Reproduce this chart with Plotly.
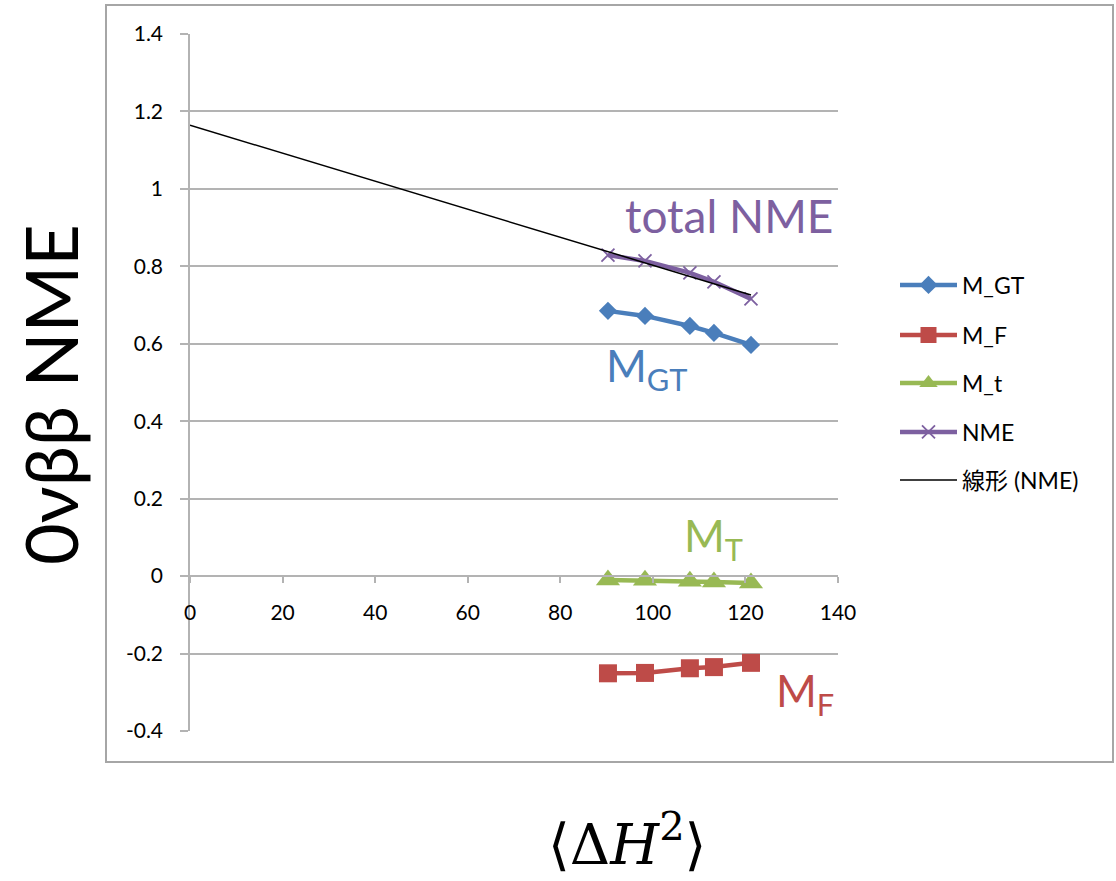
import numpy as np
import plotly.graph_objects as go

# ---------------- data ----------------
dH2 = [90.3, 98.3, 108.0, 113.2, 121.2]
M_GT = [0.685, 0.672, 0.646, 0.628, 0.597]
M_F = [-0.251, -0.250, -0.238, -0.235, -0.224]
M_t = [-0.010, -0.011, -0.013, -0.015, -0.018]
NME = [0.829, 0.814, 0.783, 0.760, 0.716]

series_names = ["M_GT", "M_F", "M_t", "NME"]
trend_name = "線形 (NME)"

y_tickvals = [1.4, 1.2, 1.0, 0.8, 0.6, 0.4, 0.2, 0.0, -0.2, -0.4]
y_ticktext = ["1.4", "1.2", "1", "0.8", "0.6", "0.4", "0.2", "0", "-0.2", "-0.4"]
x_tickvals = [0, 20, 40, 60, 80, 100, 120, 140]
x_ticktext = ["0", "20", "40", "60", "80", "100", "120", "140"]

# linear trendline of NME (least squares), from x=0 to last point
slope, intercept = np.polyfit(dH2, NME, 1)
trend_x = [0.0, max(dH2)]
trend_y = [intercept + slope * v for v in trend_x]

# ---------------- layout geometry ----------------
W, H = 1116, 881
PL, PR, PT, PB = 190, 838, 34, 731  # plot area box in page pixels
pw, ph = PR - PL, PB - PT


def px(x):
    return (x - PL) / pw


def py(y):
    return (PB - y) / ph


def dx(x):
    return (x - PL) / pw * 140


BLUE, RED, GREEN, PURPLE = "#4A7EBB", "#BE4B48", "#98B954", "#7D60A0"
GRID = "#B3B3B3"
FONT = "Lato, 'Noto Sans CJK JP', sans-serif"

fig = go.Figure()

fig.add_trace(go.Scatter(x=dH2, y=M_GT, name=series_names[0], mode="lines+markers",
                         line=dict(color=BLUE, width=4.5),
                         marker=dict(symbol="diamond", size=14, color=BLUE),
                         legend="legend"))
fig.add_trace(go.Scatter(x=dH2, y=M_F, name=series_names[1], mode="lines+markers",
                         line=dict(color=RED, width=4.5),
                         marker=dict(symbol="square", size=18, color=RED),
                         legend="legend2"))
fig.add_trace(go.Scatter(x=dH2, y=M_t, name=series_names[2], mode="lines+markers",
                         line=dict(color=GREEN, width=4.5),
                         marker=dict(symbol="triangle-up", size=21, color=GREEN),
                         legend="legend3"))
fig.add_trace(go.Scatter(x=dH2, y=NME, name=series_names[3], mode="lines+markers",
                         line=dict(color=PURPLE, width=4.5),
                         marker=dict(symbol="x-thin-open", size=13,
                                     line=dict(color=PURPLE, width=1.8)),
                         legend="legend4"))
fig.add_trace(go.Scatter(x=trend_x, y=trend_y, name=trend_name, mode="lines",
                         line=dict(color="black", width=1.5),
                         legend="legend5"))

legend_y_px = [285, 335, 383, 432, 480]
common_leg = dict(x=px(895), xanchor="left", yanchor="middle",
                  font=dict(family=FONT, size=23, color="black"),
                  bgcolor="rgba(0,0,0,0)", itemwidth=57)
legends = {}
for i, ypix in enumerate(legend_y_px):
    key = "legend" if i == 0 else f"legend{i + 1}"
    legends[key] = dict(common_leg, y=py(ypix))


def ann_font(c, s):
    return dict(family=FONT, size=s, color=c)


annotations = [
    dict(x=dx(729), y=0.93, xref="x", yref="y", text="total NME",
         showarrow=False, font=ann_font(PURPLE, 46), xanchor="center", yanchor="middle"),
    dict(x=dx(604), y=0.535, xref="x", yref="y", text="M<sub>GT</sub>",
         showarrow=False, font=ann_font(BLUE, 44), xanchor="left", yanchor="middle"),
    dict(x=dx(682), y=0.098, xref="x", yref="y", text="M<sub>T</sub>",
         showarrow=False, font=ann_font(GREEN, 44), xanchor="left", yanchor="middle"),
    dict(x=dx(774), y=-0.302, xref="x", yref="y", text="M<sub>F</sub>",
         showarrow=False, font=ann_font(RED, 44), xanchor="left", yanchor="middle"),
    # axis titles
    dict(x=px(50), y=py(395), xref="paper", yref="paper", text="0νββ NME",
         showarrow=False, textangle=-90, font=dict(family=FONT, size=72, color="black"),
         xanchor="center", yanchor="middle"),
    dict(x=px(627), y=py(840), xref="paper", yref="paper",
         text="⟨Δ<i>H</i><sup><span style='font-size:40px'>2</span></sup>⟩",
         showarrow=False,
         font=dict(family="'DejaVu Serif', 'Liberation Serif', serif", size=56, color="black"),
         xanchor="center", yanchor="middle"),
]

shapes = [
    dict(type="rect", xref="paper", yref="paper",
         x0=px(106), x1=px(1113), y0=py(762), y1=py(5),
         line=dict(color="#A6A6A6", width=2), fillcolor="rgba(0,0,0,0)", layer="below"),
]

fig.update_layout(
    width=W, height=H,
    margin=dict(l=PL, r=W - PR, t=PT, b=H - PB, pad=0),
    paper_bgcolor="white", plot_bgcolor="white",
    showlegend=True,
    annotations=annotations,
    shapes=shapes,
    font=dict(family=FONT, color="black"),
    **legends,
)

fig.update_xaxes(range=[0, 140], tickvals=x_tickvals, ticktext=x_ticktext,
                 showgrid=False, zeroline=False,
                 showline=True, linecolor=GRID, linewidth=1.5,
                 ticks="outside", ticklen=6, tickcolor=GRID, tickwidth=1.5,
                 anchor="free", position=0.4 / 1.8,
                 tickfont=dict(family=FONT, size=21, color="black"),
                 ticklabelstandoff=12)
fig.update_yaxes(range=[-0.4, 1.4], tickvals=y_tickvals, ticktext=y_ticktext,
                 showgrid=True, gridcolor=GRID, gridwidth=1.5, zeroline=False,
                 showline=True, linecolor=GRID, linewidth=1.5,
                 ticks="outside", ticklen=8, tickcolor=GRID, tickwidth=1.5,
                 tickfont=dict(family=FONT, size=21, color="black"),
                 ticklabelstandoff=13)

fig.write_html("out.html",
               config={"displayModeBar": False},
               post_script="document.body.style.margin='0';"
                           "document.body.style.overflow='hidden';")
